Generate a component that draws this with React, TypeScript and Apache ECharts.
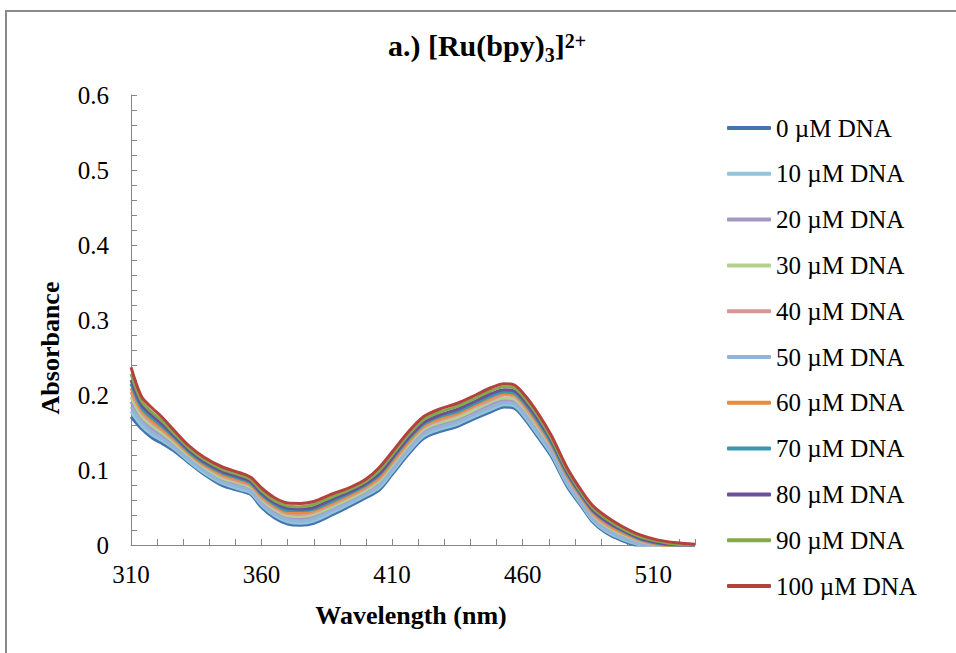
import React, { useEffect, useRef } from "react";
import * as echarts from "echarts";

const WAVELENGTHS = [310, 314, 318, 322, 327, 332, 338, 345, 352, 356, 360, 365, 370, 375, 380, 387, 394, 400, 405, 410, 416, 422, 428, 435, 442, 448, 453, 457, 461, 466, 471, 477, 483, 487, 492, 498, 505, 512, 519, 526];

const DNA_0 = [0.171, 0.155, 0.143, 0.135, 0.124, 0.110, 0.094, 0.079, 0.072, 0.067, 0.050, 0.036, 0.028, 0.0265, 0.029, 0.040, 0.052, 0.063, 0.073, 0.094, 0.120, 0.142, 0.151, 0.158, 0.169, 0.178, 0.184, 0.182, 0.167, 0.143, 0.118, 0.078, 0.049, 0.030, 0.016, 0.006, -0.002, -0.006, -0.008, -0.008];
const DNA_10 = [0.178, 0.159, 0.147, 0.139, 0.127, 0.112, 0.096, 0.082, 0.074, 0.069, 0.053, 0.039, 0.031, 0.029, 0.032, 0.043, 0.055, 0.066, 0.076, 0.097, 0.123, 0.145, 0.154, 0.161, 0.172, 0.181, 0.187, 0.185, 0.170, 0.146, 0.121, 0.081, 0.051, 0.032, 0.018, 0.008, 0.000, -0.005, -0.007, -0.007];
const DNA_20 = [0.191, 0.168, 0.155, 0.146, 0.132, 0.117, 0.101, 0.087, 0.079, 0.074, 0.058, 0.044, 0.036, 0.035, 0.038, 0.048, 0.060, 0.071, 0.082, 0.103, 0.129, 0.151, 0.160, 0.167, 0.178, 0.188, 0.193, 0.191, 0.177, 0.153, 0.126, 0.086, 0.055, 0.037, 0.023, 0.012, 0.003, -0.002, -0.005, -0.005];
const DNA_30 = [0.197, 0.172, 0.159, 0.149, 0.135, 0.119, 0.103, 0.089, 0.082, 0.076, 0.060, 0.047, 0.039, 0.038, 0.041, 0.051, 0.062, 0.073, 0.085, 0.106, 0.132, 0.154, 0.163, 0.170, 0.181, 0.191, 0.196, 0.194, 0.180, 0.156, 0.129, 0.088, 0.057, 0.039, 0.025, 0.014, 0.004, -0.001, -0.004, -0.004];
const DNA_40 = [0.204, 0.177, 0.163, 0.153, 0.138, 0.122, 0.106, 0.092, 0.084, 0.079, 0.063, 0.050, 0.042, 0.041, 0.044, 0.054, 0.065, 0.076, 0.088, 0.109, 0.135, 0.157, 0.166, 0.174, 0.185, 0.194, 0.200, 0.198, 0.183, 0.159, 0.132, 0.091, 0.060, 0.041, 0.027, 0.016, 0.006, 0.000, -0.003, -0.004];
const DNA_50 = [0.184, 0.164, 0.151, 0.142, 0.129, 0.115, 0.099, 0.084, 0.077, 0.072, 0.055, 0.041, 0.034, 0.032, 0.035, 0.046, 0.057, 0.068, 0.079, 0.100, 0.126, 0.148, 0.157, 0.164, 0.175, 0.184, 0.190, 0.188, 0.173, 0.149, 0.124, 0.083, 0.053, 0.034, 0.020, 0.010, 0.001, -0.004, -0.006, -0.006];
const DNA_60 = [0.209, 0.180, 0.166, 0.155, 0.140, 0.123, 0.107, 0.094, 0.086, 0.080, 0.065, 0.052, 0.044, 0.043, 0.046, 0.056, 0.067, 0.078, 0.090, 0.111, 0.137, 0.159, 0.168, 0.176, 0.187, 0.197, 0.202, 0.200, 0.186, 0.162, 0.134, 0.093, 0.061, 0.043, 0.029, 0.017, 0.007, 0.001, -0.002, -0.003];
const DNA_70 = [0.215, 0.183, 0.169, 0.158, 0.142, 0.125, 0.109, 0.096, 0.088, 0.082, 0.067, 0.054, 0.046, 0.046, 0.048, 0.058, 0.069, 0.080, 0.093, 0.114, 0.140, 0.161, 0.171, 0.178, 0.189, 0.199, 0.204, 0.202, 0.188, 0.164, 0.136, 0.095, 0.063, 0.045, 0.031, 0.019, 0.008, 0.002, -0.001, -0.002];
const DNA_80 = [0.220, 0.187, 0.173, 0.161, 0.144, 0.127, 0.111, 0.098, 0.090, 0.084, 0.069, 0.056, 0.049, 0.048, 0.050, 0.061, 0.071, 0.082, 0.095, 0.116, 0.142, 0.163, 0.173, 0.181, 0.192, 0.202, 0.207, 0.205, 0.191, 0.167, 0.139, 0.097, 0.065, 0.046, 0.032, 0.020, 0.009, 0.003, 0.000, -0.001];
const DNA_90 = [0.228, 0.192, 0.177, 0.165, 0.147, 0.130, 0.114, 0.101, 0.093, 0.087, 0.072, 0.059, 0.052, 0.051, 0.054, 0.064, 0.074, 0.085, 0.099, 0.120, 0.146, 0.167, 0.177, 0.185, 0.196, 0.206, 0.211, 0.209, 0.195, 0.171, 0.142, 0.100, 0.067, 0.049, 0.035, 0.022, 0.011, 0.005, 0.001, 0.000];
const DNA_100 = [0.237, 0.198, 0.183, 0.170, 0.151, 0.133, 0.117, 0.104, 0.096, 0.090, 0.076, 0.063, 0.056, 0.0555, 0.058, 0.068, 0.077, 0.088, 0.103, 0.124, 0.150, 0.171, 0.181, 0.189, 0.200, 0.210, 0.215, 0.213, 0.199, 0.175, 0.146, 0.103, 0.070, 0.052, 0.038, 0.025, 0.0135, 0.0065, 0.003, 0.001];

const SERIES_NAMES = ["0 µM DNA", "10 µM DNA", "20 µM DNA", "30 µM DNA", "40 µM DNA", "50 µM DNA", "60 µM DNA", "70 µM DNA", "80 µM DNA", "90 µM DNA", "100 µM DNA"];
const SERIES_VALUES = [DNA_0, DNA_10, DNA_20, DNA_30, DNA_40, DNA_50, DNA_60, DNA_70, DNA_80, DNA_90, DNA_100];
const SERIES_COLORS = ["#4573ad", "#8fc6da", "#a497c5", "#b5cf8e", "#d99694", "#95b3d7", "#e78b3d", "#3a97ad", "#6b509a", "#84a94a", "#b3423e"];

const FONT = "'Times New Roman', 'Liberation Serif', serif";

export default function App() {
  const ref = useRef<HTMLDivElement>(null);

  useEffect(() => {
    if (!ref.current) return;
    const chart = echarts.init(ref.current, null, { renderer: "svg" });
    const option = {
      animation: false,
      backgroundColor: "#ffffff",
      grid: { left: 131, right: 261, top: 95, bottom: 108, containLabel: false },
      legend: {
        orient: "vertical",
        left: 722,
        top: 110,
        icon: "roundRect",
        itemWidth: 44,
        itemHeight: 4,
        itemGap: 19.8,
        selectedMode: false,
        textStyle: { fontFamily: FONT, fontSize: 25, color: "#000", lineHeight: 26 },
        data: SERIES_NAMES,
      },
      xAxis: {
        type: "value",
        min: 310,
        max: 526,
        interval: 10,
        axisLine: { lineStyle: { color: "#868686", width: 1 } },
        axisTick: { inside: true, length: 6, lineStyle: { color: "#868686" } },
        splitLine: { show: false },
        axisLabel: {
          margin: 17,
          fontFamily: FONT,
          fontSize: 25,
          color: "#000",
          formatter: (v: number) => ((Math.round(v) - 310) % 50 === 0 ? String(Math.round(v)) : ""),
        },
      },
      yAxis: {
        type: "value",
        min: 0,
        max: 0.6,
        interval: 0.02,
        axisLine: { show: true, lineStyle: { color: "#868686", width: 1 } },
        axisTick: { show: true, inside: true, length: 6, lineStyle: { color: "#868686" } },
        splitLine: { show: false },
        axisLabel: {
          margin: 22,
          fontFamily: FONT,
          fontSize: 25,
          color: "#000",
          formatter: (v: number) => {
            const t = Math.round(v * 100);
            return t % 10 === 0 ? String(t / 100) : "";
          },
        },
      },
      series: SERIES_NAMES.map((name, i) => ({
        name,
        type: "line",
        data: WAVELENGTHS.map((w, j) => [w, SERIES_VALUES[i][j]]),
        symbol: "none",
        smooth: 0.3,
        silent: true,
        clip: true,
        color: SERIES_COLORS[i],
        itemStyle: { color: SERIES_COLORS[i] },
        lineStyle: { color: SERIES_COLORS[i], width: 3 },
      })),
      graphic: [
        {
          type: "rect",
          shape: { x: 6, y: 11, width: 1000, height: 700 },
          style: { fill: "none", stroke: "#898989", lineWidth: 2 },
          silent: true,
        },
        {
          type: "text",
          x: 487,
          y: 45,
          style: {
            text: "a.) [Ru(bpy){sub|3}]{sup|2+}",
            fontFamily: FONT,
            fontWeight: "bold",
            fontSize: 30,
            lineHeight: 44,
            fill: "#000",
            align: "center",
            verticalAlign: "middle",
            rich: {
              sub: { fontFamily: FONT, fontWeight: "bold", fontSize: 20, lineHeight: 22, verticalAlign: "bottom", padding: [0, 0, 2, 0] },
              sup: { fontFamily: FONT, fontWeight: "bold", fontSize: 20, lineHeight: 40, verticalAlign: "top", padding: [8, 0, 0, 0] },
            },
          },
        },
        {
          type: "text",
          x: 50,
          y: 348,
          rotation: Math.PI / 2,
          style: {
            text: "Absorbance",
            fontFamily: FONT,
            fontWeight: "bold",
            fontSize: 26,
            fill: "#000",
            align: "center",
            verticalAlign: "middle",
          },
        },
        {
          type: "text",
          x: 411,
          y: 615,
          style: {
            text: "Wavelength (nm)",
            fontFamily: FONT,
            fontWeight: "bold",
            fontSize: 26,
            fill: "#000",
            align: "center",
            verticalAlign: "middle",
          },
        },
      ],
    };
    chart.setOption(option as any);
    return () => chart.dispose();
  }, []);

  return (
    <div
      ref={ref}
      style={{ position: "fixed", left: 0, top: 0, width: 956, height: 653, background: "#fff" }}
    />
  );
}
